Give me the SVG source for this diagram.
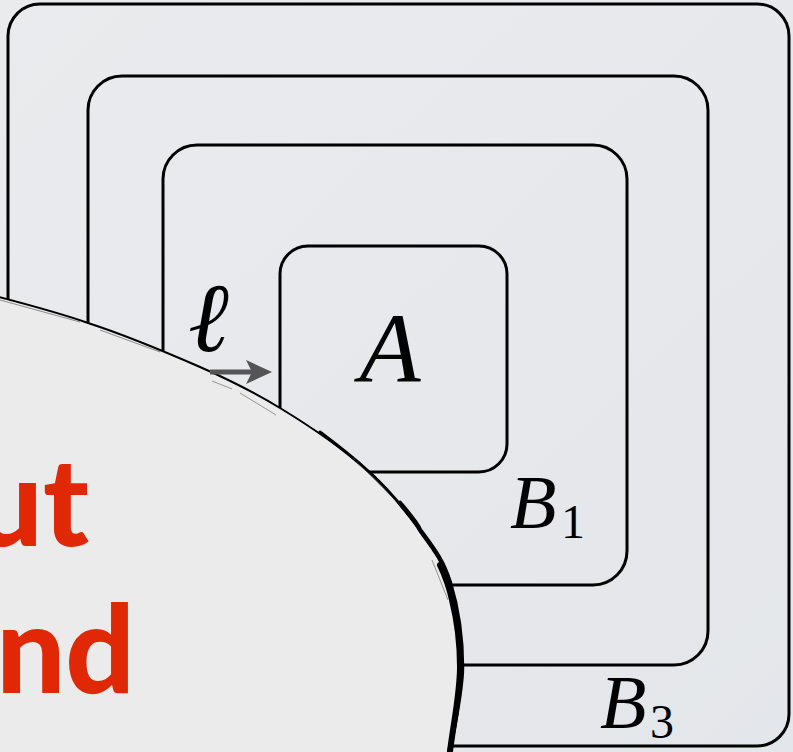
<svg xmlns="http://www.w3.org/2000/svg" width="793" height="752" viewBox="0 0 793 752">
<defs>
<linearGradient id="bg" x1="0" y1="0" x2="1" y2="1">
<stop offset="0" stop-color="#eaebed"/>
<stop offset="1" stop-color="#e3e6ea"/>
</linearGradient>
<style>
.box{fill:none;stroke:#000;stroke-width:3}
.m{font-family:"Liberation Serif","Times New Roman",serif;font-style:italic;fill:#000}
.sub{font-family:"Liberation Serif","Times New Roman",serif;fill:#000}
.red{font-family:Lato,"Open Sans",sans-serif;font-weight:900;fill:#e02806}
.sk{fill:none;stroke:#000;stroke-linecap:round}
</style>
</defs>
<rect width="793" height="752" fill="url(#bg)"/>
<g id="B3"><rect class="box" x="8" y="4" width="781" height="742" rx="32"/>
<text class="m" x="600" y="728" font-size="76">B</text><text class="sub" x="650" y="738" font-size="48">3</text></g>
<g id="B2"><rect class="box" x="88" y="76" width="620" height="589" rx="34"/></g>
<g id="B1"><rect class="box" x="163" y="145" width="464" height="440" rx="34"/>
<text class="m" x="510" y="528" font-size="76">B</text><text class="sub" x="561" y="538" font-size="48">1</text></g>
<g id="A"><rect class="box" x="280" y="246" width="227" height="226" rx="28"/>
<text class="m" x="390" y="382" font-size="100" text-anchor="middle">A</text></g>
<g id="ell"><text class="m" x="188" y="351" font-size="98">ℓ</text></g>
<g id="blob">
<path d="M-20,292 C-2,297 51,310 88,323 C125,335 168,353 200,367 C232,381 252,391 280,408 C308,425 344,450 367,470 C390,490 406,511 420,530 C434,549 443,560 450,583 C457,606 462,637 462,667 C462,696 450,744 448,760 L-20,760 Z" fill="#ebebeb" stroke="#000" stroke-width="2"/>
<path class="sk" d="M320,432 C344,450 356,460 367,470 C390,490 406,511 420,530 C434,549 443,560 450,583" stroke-width="3"/>
<path class="sk" d="M400,503 C412,517 418,525 420,530 C434,549 443,560 450,583 C457,606 462,637 462,667 C462,696 450,744 448,760" stroke-width="4.5"/>
<path class="sk" d="M440,565 C447,580 450,590 452,600 C457,620 460,640 460,667 C460,696 452,730 449,760" stroke-width="6"/>
<path d="M240,393 L276,415 M212,381 L232,389 M352,457 L405,510 M432,560 L448,600" fill="none" stroke="#333" stroke-width="0.8" opacity="0.6"/>
<path d="M0,300 L80,322 M100,330 L160,352" fill="none" stroke="#222" stroke-width="0.8" opacity="0.6"/>
<text class="red" x="89" y="546" font-size="122" text-anchor="end">ut</text>
<text class="red" x="135" y="693" font-size="122" text-anchor="end">nd</text>
</g>
<g id="connectors">
<line x1="210" y1="372" x2="256" y2="372" stroke="#555" stroke-width="5"/>
<path d="M272,372 L246,360 L252,372 L246,384 Z" fill="#555"/>
</g>
</svg>
